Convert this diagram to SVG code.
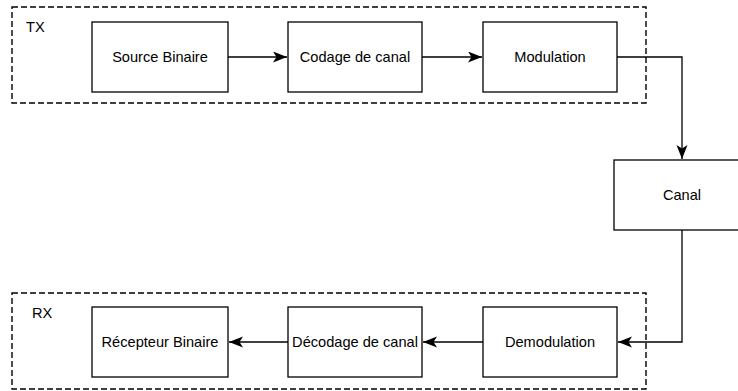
<svg xmlns="http://www.w3.org/2000/svg" width="738" height="391" viewBox="0 0 738 391">
<style>
.grp{fill:none;stroke:#000;stroke-width:1.4;stroke-dasharray:6 3}
.box{fill:#fff;stroke:#000;stroke-width:1.3}
.lbl{font-family:"Liberation Sans",Arial,sans-serif;font-size:14.6px;fill:#000;text-anchor:middle}
.glbl{font-family:"Liberation Sans",Arial,sans-serif;font-size:14.6px;fill:#000}
.edge{fill:none;stroke:#000;stroke-width:1.3}
</style>
<defs>
<marker id="arr" markerUnits="userSpaceOnUse" markerWidth="16" markerHeight="12" refX="14" refY="5.5" orient="auto">
<path d="M0,0 L14,5.5 L0,11 L3.5,5.5 Z" fill="#000"/>
</marker>
</defs>
<rect width="738" height="391" fill="#fff"/>
<g id="tx">
<rect class="grp" x="12" y="7" width="634" height="96"/>
<text class="glbl" x="26" y="32">TX</text>
</g>
<g id="rx">
<rect class="grp" x="12" y="293" width="634" height="96"/>
<text class="glbl" x="32" y="318">RX</text>
</g>
<g id="connectors">
<path class="edge" d="M228,57 H287" marker-end="url(#arr)"/>
<path class="edge" d="M422,57 H482" marker-end="url(#arr)"/>
<path class="edge" d="M617,57 H682 V159" marker-end="url(#arr)"/>
<path class="edge" d="M682,230 V342 H618" marker-end="url(#arr)"/>
<path class="edge" d="M483,342 H423" marker-end="url(#arr)"/>
<path class="edge" d="M288,342 H229" marker-end="url(#arr)"/>
</g>
<g id="source">
<rect class="box" x="92" y="22" width="136" height="70"/>
<text class="lbl" x="160" y="62">Source Binaire</text>
</g>
<g id="codage">
<rect class="box" x="288" y="22" width="134" height="70"/>
<text class="lbl" x="355" y="62">Codage de canal</text>
</g>
<g id="modulation">
<rect class="box" x="483" y="22" width="134" height="70"/>
<text class="lbl" x="550" y="62">Modulation</text>
</g>
<g id="canal">
<rect class="box" x="614" y="160" width="136" height="70"/>
<text class="lbl" x="682" y="200">Canal</text>
</g>
<g id="demodulation">
<rect class="box" x="483" y="307" width="134" height="70"/>
<text class="lbl" x="550" y="347">Demodulation</text>
</g>
<g id="decodage">
<rect class="box" x="288" y="307" width="134" height="70"/>
<text class="lbl" x="355" y="347">Décodage de canal</text>
</g>
<g id="recepteur">
<rect class="box" x="92" y="307" width="136" height="70"/>
<text class="lbl" x="160" y="347">Récepteur Binaire</text>
</g>
</svg>
